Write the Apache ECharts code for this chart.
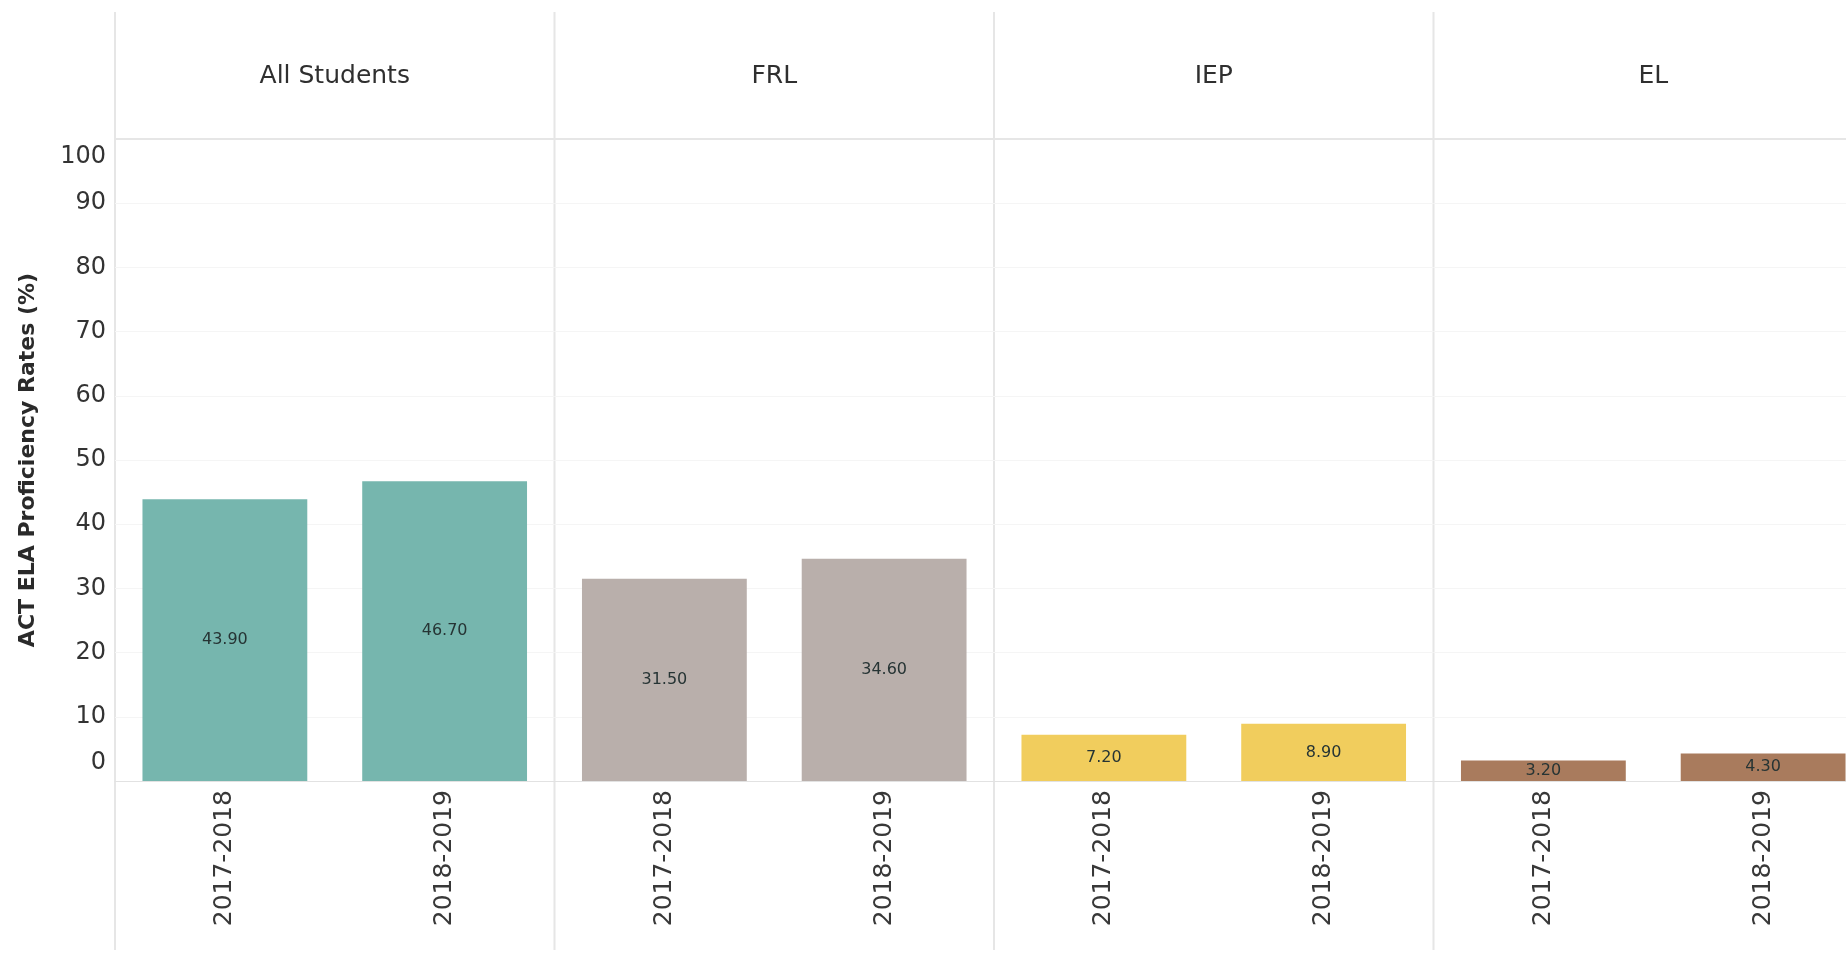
<!DOCTYPE html>
<html><head><meta charset="utf-8">
<script src="https://cdn.jsdelivr.net/npm/echarts@6/dist/echarts.min.js"></script>
<style>html,body{margin:0;padding:0;background:#fff;overflow:hidden}#c{width:1873px;height:957px}</style>
</head><body><div id="c"></div>
<script>
// ---- data ----
const groups = ['All Students', 'FRL', 'IEP', 'EL'];
const years = ['2017-2018', '2018-2019'];
const allStudents = [43.9, 46.7];
const frl = [31.5, 34.6];
const iep = [7.2, 8.9];
const el = [3.2, 4.3];
const groupValues = [allStudents, frl, iep, el];
const yAxisTitle = 'ACT ELA Proficiency Rates (%)';
const yMin = 0, yMax = 100, yStep = 10;

// ---- styling / layout ----
const groupColors = ['#76b6ae', '#b9afab', '#f1cd5d', '#a97b5d'];
const left0 = 115, panelW = 439.5, gridTop = 139, gridBottom = 176;
const lineColor = '#e6e6e6';

const chart = echarts.init(document.getElementById('c'));
const grids = [], xAxes = [], yAxes = [], series = [], graphics = [];

groups.forEach((g, i) => {
  const gl = left0 + i * panelW;
  grids.push({ left: gl, top: gridTop, width: panelW, bottom: gridBottom, containLabel: false });
  // bottom category axis (years)
  xAxes.push({
    type: 'category', gridIndex: i, data: years, position: 'bottom',
    axisLine: { show: true, lineStyle: { color: '#e2e2e2', width: 1 } },
    axisTick: { show: false },
    axisLabel: { rotate: 90, margin: 9, fontFamily: 'DejaVu Sans', fontSize: 25, color: '#383838' }
  });
  // top axis carrying the panel header
  xAxes.push({
    type: 'category', gridIndex: i, data: [g], position: 'top',
    axisLine: { show: true, lineStyle: { color: lineColor, width: 2 } },
    axisTick: { show: false },
    axisLabel: { margin: 50, fontFamily: 'DejaVu Sans', fontSize: 25, color: '#2f2f2f' }
  });
  yAxes.push({
    type: 'value', gridIndex: i, min: yMin, max: yMax, interval: yStep,
    axisLine: { show: false }, axisTick: { show: false },
    axisLabel: i === 0 ? {
      show: true, margin: 9, fontFamily: 'DejaVu Sans', fontSize: 24, color: '#333',
      formatter: v => v === yMax ? '{top|' + v + '}' : (v === yMin ? '{bot|' + v + '}' : '' + v),
      rich: {
        top: { padding: [36, 0, 0, 0], fontFamily: 'DejaVu Sans', fontSize: 24, color: '#333' },
        bot: { padding: [0, 0, 36, 0], fontFamily: 'DejaVu Sans', fontSize: 24, color: '#333' }
      }
    } : { show: false },
    splitLine: { show: true, lineStyle: { color: '#f5f5f5', width: 1 } },
    name: i === 0 ? yAxisTitle : '',
    nameLocation: 'middle', nameGap: 76,
    nameTextStyle: { fontFamily: 'DejaVu Sans', fontWeight: 'bold', fontSize: 22, color: '#2a2a2a' }
  });
  series.push({
    type: 'bar', xAxisIndex: i * 2, yAxisIndex: i,
    data: groupValues[i], barWidth: '75%',
    itemStyle: { color: groupColors[i] },
    label: {
      show: true, position: 'inside', fontFamily: 'DejaVu Sans', fontSize: 16, color: '#263434',
      formatter: p => p.value.toFixed(2)
    }
  });
  graphics.push({
    type: 'line', silent: true,
    shape: { x1: gl, y1: 12, x2: gl, y2: 950 },
    style: { stroke: lineColor, lineWidth: 2 }
  });
});

chart.setOption({
  backgroundColor: '#fff',
  animation: false,
  grid: grids, xAxis: xAxes, yAxis: yAxes, series: series,
  graphic: graphics
});
</script></body></html>
